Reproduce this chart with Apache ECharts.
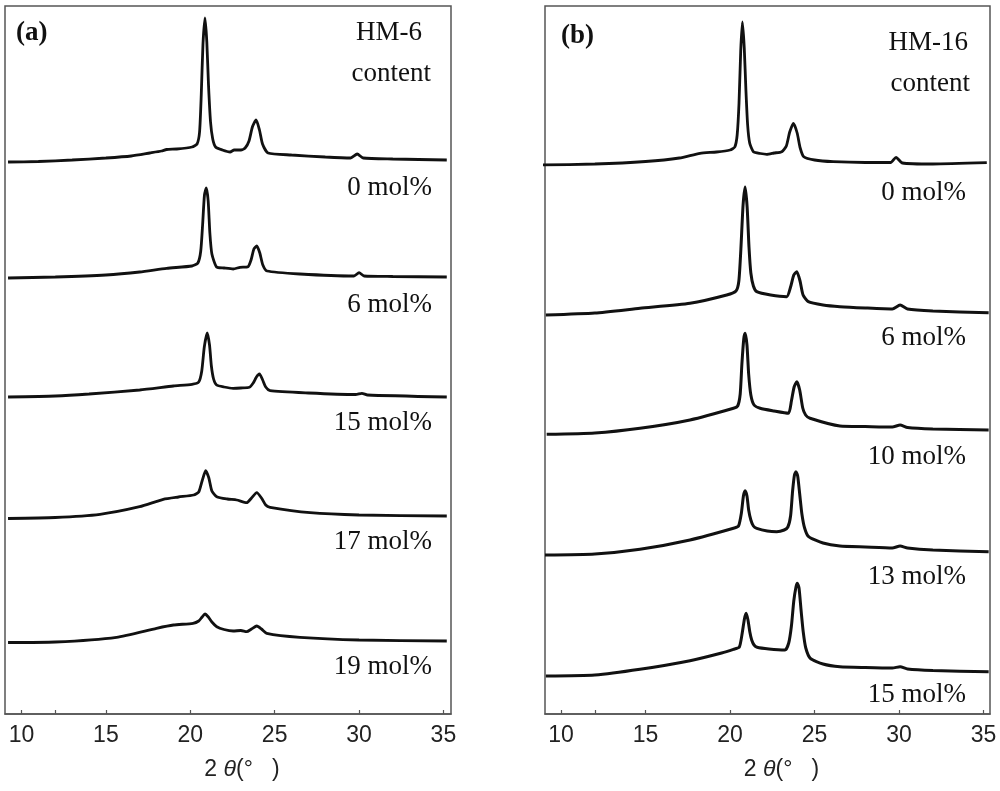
<!DOCTYPE html>
<html>
<head>
<meta charset="utf-8">
<script src="https://cdn.jsdelivr.net/npm/echarts@6/dist/echarts.min.js"></script>
<style>
    html, body { margin: 0; padding: 0; background: #fff; }
    #chart { width: 1000px; height: 791px; }
</style>
</head>
<body>
<div id="chart"></div>
<script>
// 2theta ticks
var tickLabels = [10, 15, 20, 25, 30, 35];
var tickMarks = [10, 12, 15, 20, 25, 30, 35];

// panel (a) HM-6, intensity (a.u.) above each trace's baseline
var namesA = ['0 mol%', '6 mol%', '15 mol%', '17 mol%', '19 mol%'];
var offsetsA = [554, 437, 317, 198, 73];
var hm6_0 = [[9.2,-2],[11,-1.5],[13,0],[15,2],[16.5,4],[17.6,7],[18.3,9],[18.6,10.5],[19.2,11],[20.1,13],[20.4,16],[20.55,28],[20.65,65],[20.75,115],[20.87,142],[20.98,118],[21.08,75],[21.2,38],[21.33,21],[21.5,13],[21.9,10],[22.36,8],[22.6,10],[23.0,10],[23.25,12],[23.48,19],[23.68,33],[23.9,40],[24.1,30],[24.28,16],[24.61,7],[26,5],[28,3],[29.5,2],[29.89,6],[30.25,2],[32,1],[35.2,0]];
var hm6_6 = [[9.2,-1],[12,0],[15,2],[17,5],[18.6,8.7],[20.1,11],[20.45,14],[20.62,26],[20.73,52],[20.84,82],[20.95,89],[21.06,76],[21.16,44],[21.28,23],[21.56,10],[22.0,9],[22.54,8],[22.95,9.7],[23.42,10.3],[23.6,17],[23.77,28],[23.94,31],[24.12,24],[24.3,12],[24.55,6],[26.5,3],[29.7,1],[30.0,4.3],[30.3,1],[32,0.5],[35.2,0]];
var hm6_15 = [[9.2,0],[12,1],[14,3],[17,7],[19.0,11],[20.1,12.7],[20.5,15],[20.68,26],[20.83,50],[21.0,64],[21.14,52],[21.25,31],[21.38,18],[21.56,12],[22.0,10],[22.54,8.7],[23.0,9],[23.5,9.7],[23.73,14],[23.92,20],[24.1,23],[24.29,17],[24.47,10],[24.73,6.3],[27,4],[29.8,2.5],[30.17,3.7],[30.5,2],[35.2,0]];
var hm6_17 = [[9.2,-2.5],[12,-1.5],[14.65,1.7],[17.0,9.3],[18.4,16.7],[19.3,19],[20.2,21],[20.5,24],[20.7,35],[20.91,45.3],[21.1,38],[21.28,25],[21.57,19.3],[22.2,17],[22.75,16],[23.34,13.3],[23.63,18],[23.94,23.3],[24.22,18],[24.47,11],[24.73,8.7],[27.1,3.3],[30,1],[35.2,0]];
var hm6_19 = [[9.2,-1.5],[12,-1],[15.63,3.7],[18.0,12.7],[19.0,16],[20.16,17.7],[20.5,20],[20.7,24],[20.87,27],[21.07,24],[21.28,19],[21.57,14.3],[22.0,11.5],[22.54,10],[23.0,10.5],[23.34,9.3],[23.63,12],[23.94,15],[24.22,12],[24.53,7.7],[26.5,3.7],[30,1],[35.2,0]];
var tracesA = [hm6_0, hm6_6, hm6_15, hm6_17, hm6_19];

// panel (b) HM-16
var namesB = ['0 mol%', '6 mol%', '10 mol%', '13 mol%', '15 mol%'];
var offsetsB = [551, 401, 284, 162, 42];
var hm16_0 = [[8.8,-2],[12,-1],[15,1.5],[17,5],[18.22,9.7],[19.2,11],[20.0,13],[20.28,16],[20.42,28],[20.53,60],[20.63,112],[20.73,141],[20.84,115],[20.94,72],[21.04,38],[21.16,20],[21.38,11.3],[21.8,9.5],[22.17,8.7],[22.6,10],[23.06,11.3],[23.33,17],[23.53,31],[23.75,39.7],[23.97,30],[24.15,15],[24.36,6.3],[25,3],[26.1,1.3],[28,0.5],[29.5,0.5],[29.82,5.7],[30.2,0],[32,-1],[35.19,0.3]];
var hm16_6 = [[9.1,-2],[12,0],[14.67,4.7],[17.63,9.7],[19.8,18],[20.35,22],[20.52,32],[20.64,64],[20.77,108],[20.89,126],[21.01,106],[21.12,66],[21.23,40],[21.38,27],[21.58,21.3],[22.4,18],[23.35,16.3],[23.58,26],[23.77,38],[23.95,41.3],[24.14,32],[24.32,18],[24.63,11.3],[25.5,8],[26.5,6.3],[28,5],[29.6,4],[30.06,8],[30.5,4],[32,2],[35.3,0.3]];
var hm16_10 = [[9.15,-4.3],[12,-3],[14.67,1.7],[17.63,10],[20.2,21.7],[20.45,24],[20.6,36],[20.7,66],[20.81,91],[20.89,96.7],[21.0,85],[21.1,56],[21.23,35],[21.42,25],[21.78,21.7],[22.6,19],[23.45,16.7],[23.63,29],[23.79,43],[23.95,48.3],[24.12,40],[24.3,22],[24.47,15],[24.73,11.7],[26.5,4],[28,3.5],[29.6,3],[30.06,5],[30.5,2.5],[32,1],[35.3,0]];
var hm16_13 = [[9.05,-3],[12,-2],[14.67,2.7],[17.63,12],[20.2,23.7],[20.5,26],[20.67,39],[20.79,56],[20.89,61.3],[21.0,56],[21.1,42],[21.23,32],[21.38,26],[21.58,23.7],[22.2,21],[22.76,20.3],[23.2,22],[23.42,25],[23.58,36],[23.7,61],[23.81,77],[23.9,80.3],[24.0,76],[24.12,58],[24.25,38],[24.41,24],[24.65,15.3],[25.5,9],[26.5,6],[28,5],[29.6,4],[30.06,6],[30.5,4],[32,2],[35.3,0.3]];
var hm16_15 = [[9.1,-4],[12,-3],[14.67,2.7],[17.63,11.3],[19.5,19],[20.2,22.7],[20.55,25],[20.72,39],[20.85,53],[20.95,58.7],[21.06,52],[21.17,40],[21.28,32],[21.42,27],[21.6,24.7],[22.3,23],[23.25,22],[23.47,29],[23.63,46],[23.77,71],[23.9,85],[23.98,88.7],[24.08,84],[24.2,62],[24.33,40],[24.48,24],[24.75,13.7],[25.5,8],[26.5,5.3],[28,4.5],[29.6,4],[30.06,5.3],[30.5,3],[32,1.5],[35.3,0.3]];
var tracesB = [hm16_0, hm16_6, hm16_10, hm16_13, hm16_15];

var serifFont = '"Liberation Serif", "Times New Roman", serif';
var sansFont = '"Liberation Sans", Arial, sans-serif';

function shift(trace, offset) {
    var out = [];
    for (var i = 0; i < trace.length; i++) {
        out.push([trace[i][0], trace[i][1] + offset]);
    }
    return out;
}

function makeX(idx, min, max) {
    return {
        type: 'value',
        gridIndex: idx,
        min: min,
        max: max,
        splitLine: { show: false },
        axisLine: { show: true, lineStyle: { color: '#555', width: 1.5 } },
        axisTick: {
            show: true,
            inside: true,
            length: 4,
            customValues: tickMarks,
            lineStyle: { color: '#555', width: 1.2 }
        },
        axisLabel: {
            customValues: tickLabels,
            margin: 10,
            color: '#222',
            fontFamily: sansFont,
            fontSize: 23
        },
        name: '{n|2 }{t|θ}{n|(°   )}',
        nameLocation: 'middle',
        nameGap: 44,
        nameTextStyle: {
            padding: [0, 0, 0, 28],
            rich: {
                n: { fontFamily: sansFont, fontSize: 23, color: '#222' },
                t: { fontFamily: sansFont, fontSize: 23, color: '#222', fontStyle: 'italic' }
            }
        }
    };
}

function makeY(idx) {
    return {
        type: 'value',
        gridIndex: idx,
        min: 0,
        max: 708,
        show: false
    };
}

var series = [];
for (var i = 0; i < tracesA.length; i++) {
    series.push({
        type: 'line',
        name: 'HM-6 ' + namesA[i],
        xAxisIndex: 0,
        yAxisIndex: 0,
        data: shift(tracesA[i], offsetsA[i]),
        showSymbol: false,
        smooth: 0.2,
        silent: true,
        lineStyle: { color: '#111', width: 2.8 }
    });
}
for (var i = 0; i < tracesB.length; i++) {
    series.push({
        type: 'line',
        name: 'HM-16 ' + namesB[i],
        xAxisIndex: 1,
        yAxisIndex: 1,
        data: shift(tracesB[i], offsetsB[i]),
        showSymbol: false,
        smooth: 0.2,
        silent: true,
        lineStyle: { color: '#111', width: i === 0 ? 2.8 : 3 }
    });
}

function label(text, x, y, align, bold, size) {
    return {
        type: 'text',
        x: x,
        y: y,
        silent: true,
        style: {
            text: text,
            fill: '#111',
            font: (bold ? 'bold ' : '') + size + 'px ' + serifFont,
            textAlign: align,
            textVerticalAlign: 'middle'
        }
    };
}

var labelYA = [188, 305, 423, 542, 667];
var labelYB = [193, 338, 457, 577, 695];
var graphics = [
    label('(a)', 16, 33, 'left', true, 27),
    label('HM-6', 422, 33, 'right', false, 27),
    label('content', 431, 74, 'right', false, 27),
    label('(b)', 561, 36, 'left', true, 27),
    label('HM-16', 968, 43, 'right', false, 27),
    label('content', 970, 84, 'right', false, 27)
];
for (var i = 0; i < namesA.length; i++) {
    graphics.push(label(namesA[i], 432, labelYA[i], 'right', false, 27));
}
for (var i = 0; i < namesB.length; i++) {
    graphics.push(label(namesB[i], 966, labelYB[i], 'right', false, 27));
}

var chart = echarts.init(document.getElementById('chart'));
chart.setOption({
    backgroundColor: '#fff',
    animation: false,
    grid: [
        { left: 5, right: 549, top: 6, bottom: 77, show: true, borderColor: '#555', borderWidth: 1.5 },
        { left: 545, right: 10, top: 6, bottom: 77, show: true, borderColor: '#555', borderWidth: 1.5 }
    ],
    xAxis: [makeX(0, 9.02, 35.45), makeX(1, 9.05, 35.38)],
    yAxis: [makeY(0), makeY(1)],
    graphic: graphics,
    series: series
});

window.onresize = function () {
    chart.resize();
};
</script>
</body>
</html>
